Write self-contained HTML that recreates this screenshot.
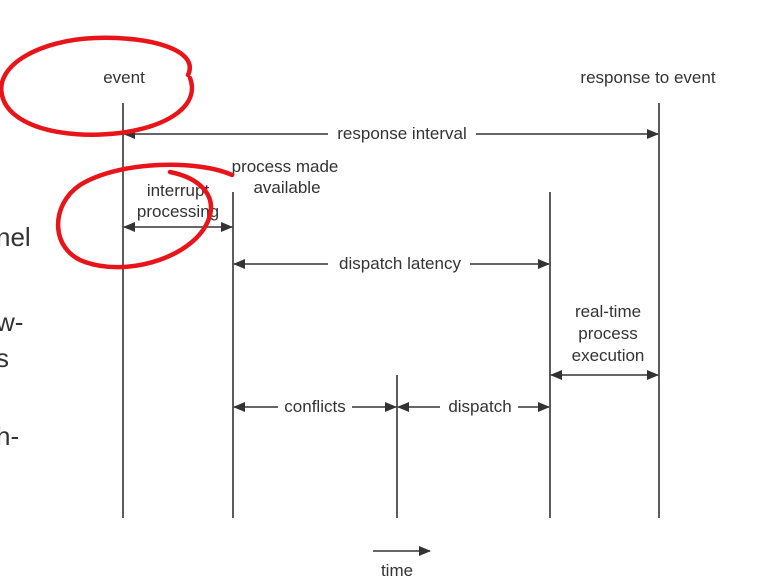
<!DOCTYPE html>
<html><head><style>
html,body{margin:0;padding:0;background:#fff;}
svg{display:block;}
text{font-family:"Liberation Sans",sans-serif;fill:#333;}
</style></head><body>
<svg width="767" height="587" viewBox="0 0 767 587" xmlns="http://www.w3.org/2000/svg">
<defs>
<marker id="a" markerWidth="12" markerHeight="10" refX="11" refY="5" orient="auto-start-reverse" markerUnits="userSpaceOnUse">
<path d="M0,0 L12,5 L0,10 z" fill="#333"/></marker>
</defs>
<g stroke="#333" stroke-width="1.6">
<line x1="123" y1="103" x2="123" y2="518"/>
<line x1="233" y1="192" x2="233" y2="518"/>
<line x1="397" y1="375" x2="397" y2="518"/>
<line x1="550" y1="192" x2="550" y2="518"/>
<line x1="659" y1="103" x2="659" y2="518"/>
<line x1="124" y1="134" x2="328" y2="134" marker-start="url(#a)"/>
<line x1="476" y1="134" x2="658" y2="134" marker-end="url(#a)"/>
<line x1="124" y1="227" x2="232" y2="227" marker-start="url(#a)" marker-end="url(#a)"/>
<line x1="234" y1="264" x2="328" y2="264" marker-start="url(#a)"/>
<line x1="470" y1="264" x2="549" y2="264" marker-end="url(#a)"/>
<line x1="551" y1="375" x2="658" y2="375" marker-start="url(#a)" marker-end="url(#a)"/>
<line x1="234" y1="407" x2="278" y2="407" marker-start="url(#a)"/>
<line x1="352" y1="407" x2="396" y2="407" marker-end="url(#a)"/>
<line x1="398" y1="407" x2="440" y2="407" marker-start="url(#a)"/>
<line x1="518" y1="407" x2="549" y2="407" marker-end="url(#a)"/>
<line x1="373" y1="551" x2="430" y2="551" marker-end="url(#a)"/>
</g>
<g font-size="17" text-anchor="middle">
<text x="124" y="83">event</text>
<text x="648" y="83">response to event</text>
<text x="402" y="139">response interval</text>
<text x="285" y="172">process made</text>
<text x="287" y="193">available</text>
<text x="178" y="196">interrupt</text>
<text x="178" y="217">processing</text>
<text x="400" y="269">dispatch latency</text>
<text x="608" y="317">real-time</text>
<text x="608" y="339">process</text>
<text x="608" y="361">execution</text>
<text x="315" y="412">conflicts</text>
<text x="480" y="412">dispatch</text>
<text x="397" y="576">time</text>
</g>
<g font-size="26">
<text x="-4" y="246">nel</text>
<text x="-4" y="331">w-</text>
<text x="-4" y="367">s</text>
<text x="-4" y="445">h-</text>
</g>
<g fill="none" stroke="#e8141a" stroke-width="4.5" stroke-linecap="round">
<path d="M188,75 C200,50 150,36 95,38 C40,40 -5,65 2,95 C8,125 60,140 120,133 C170,126 200,105 190,78"/>
<path d="M232,175 C200,160 120,160 80,185 C50,205 50,250 85,262 C130,278 200,255 210,215 C215,195 200,178 170,172"/>
</g>
</svg>
</body></html>
